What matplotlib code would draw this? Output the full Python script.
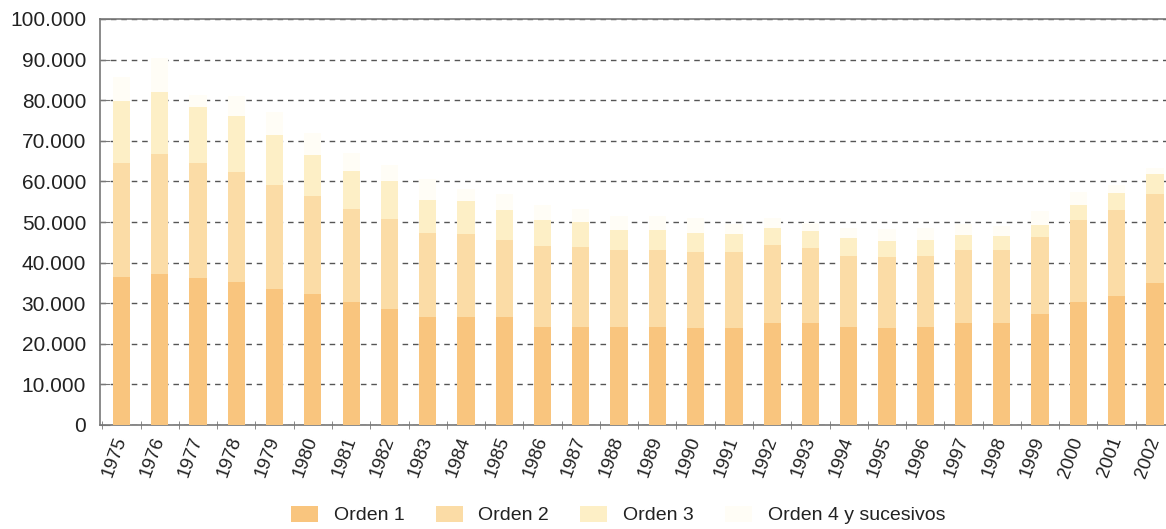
import matplotlib
matplotlib.use("Agg")
import matplotlib.pyplot as plt
import numpy as np
from matplotlib.ticker import FuncFormatter, FixedLocator

plt.rcParams['font.family'] = ['Liberation Sans', 'DejaVu Sans']

years = [str(y) for y in range(1975, 2003)]
orden1 = [36400, 37200, 36200, 35300, 33400, 32300, 30200, 28500, 26700, 26700,
          26700, 24200, 24200, 24200, 24200, 23800, 23800, 25100, 25100, 24200,
          24000, 24200, 25100, 25100, 27400, 30200, 31800, 34900]
orden2 = [28100, 29600, 28300, 27000, 25700, 24200, 23100, 22200, 20700, 20300,
          18900, 19900, 19600, 19000, 19000, 18700, 18900, 19300, 18500, 17500,
          17400, 17500, 18100, 18100, 19000, 20400, 21200, 22100]
orden3 = [15200, 15200, 13800, 13700, 12400, 10000, 9200, 9300, 8100, 8100,
          7400, 6500, 6300, 4900, 4900, 4900, 4400, 4100, 4100, 4300,
          3800, 3900, 3700, 3400, 2900, 3700, 4100, 4700]
orden4 = [6000, 8500, 3000, 5000, 5500, 5500, 4500, 4000, 5000, 3000,
          4000, 3500, 3000, 3500, 3500, 3500, 2500, 2500, 2000, 2500,
          3000, 3000, 2500, 2500, 3500, 3000, 2000, 1500]
series_names = ["Orden 1", "Orden 2", "Orden 3", "Orden 4 y sucesivos"]
yticks = list(range(0, 100001, 10000))

colors = ["#F9C57E", "#FBDCA6", "#FDEFC6", "#FFFDF6"]

fig = plt.figure(figsize=(11.66, 5.29), dpi=100)
ax = fig.add_axes([100/1166, 1 - 425/529, 1 - 100/1166, (425 - 19)/529])

x = np.arange(len(years))
w = 0.45
bottom = np.zeros(len(years))
handles = []
for vals, c, name in zip([orden1, orden2, orden3, orden4], colors, series_names):
    vals = np.array(vals, dtype=float)
    h = ax.bar(x, vals, w, bottom=bottom, color=c, label=name, zorder=3, linewidth=0)
    handles.append(h)
    bottom += vals

ax.set_ylim(0, 100000)
ax.set_xlim(-0.562, 27.29)
ax.set_yticks(yticks)
ax.yaxis.set_major_formatter(FuncFormatter(lambda v, p: f"{int(v):,}".replace(",", ".")))
ax.yaxis.grid(True, linestyle=(0, (4, 3.5)), color="#555555", linewidth=1.0, zorder=0)
ax.set_axisbelow(True)

ax.set_xticks(x)
ax.set_xticklabels(years, rotation=70, fontsize=13.5, color="#222222",
                   rotation_mode='anchor', ha='right', va='center')
ax.xaxis.set_minor_locator(FixedLocator(np.arange(-0.5, 28, 1.0)))
ax.tick_params(axis='x', which='major', length=0, pad=9)
ax.tick_params(axis='x', which='minor', length=6, direction='inout', color="#777777")
ax.tick_params(axis='y', which='major', length=7, direction='in', color="#777777",
               labelsize=15, labelcolor="#222222", pad=10)

for s in ['left', 'bottom', 'top']:
    ax.spines[s].set_color("#777777")
    ax.spines[s].set_linewidth(1.2)
ax.spines['right'].set_visible(False)

leg = fig.legend(handles=handles, labels=series_names, loc='center',
                 bbox_to_anchor=(0.53, 1 - 515/529), ncol=4, frameon=False,
                 fontsize=14, handlelength=1.4, handleheight=0.9,
                 columnspacing=1.6, handletextpad=0.8)
for t in leg.get_texts():
    t.set_color("#222222")

fig.savefig("out.png", dpi=100, facecolor="white")
